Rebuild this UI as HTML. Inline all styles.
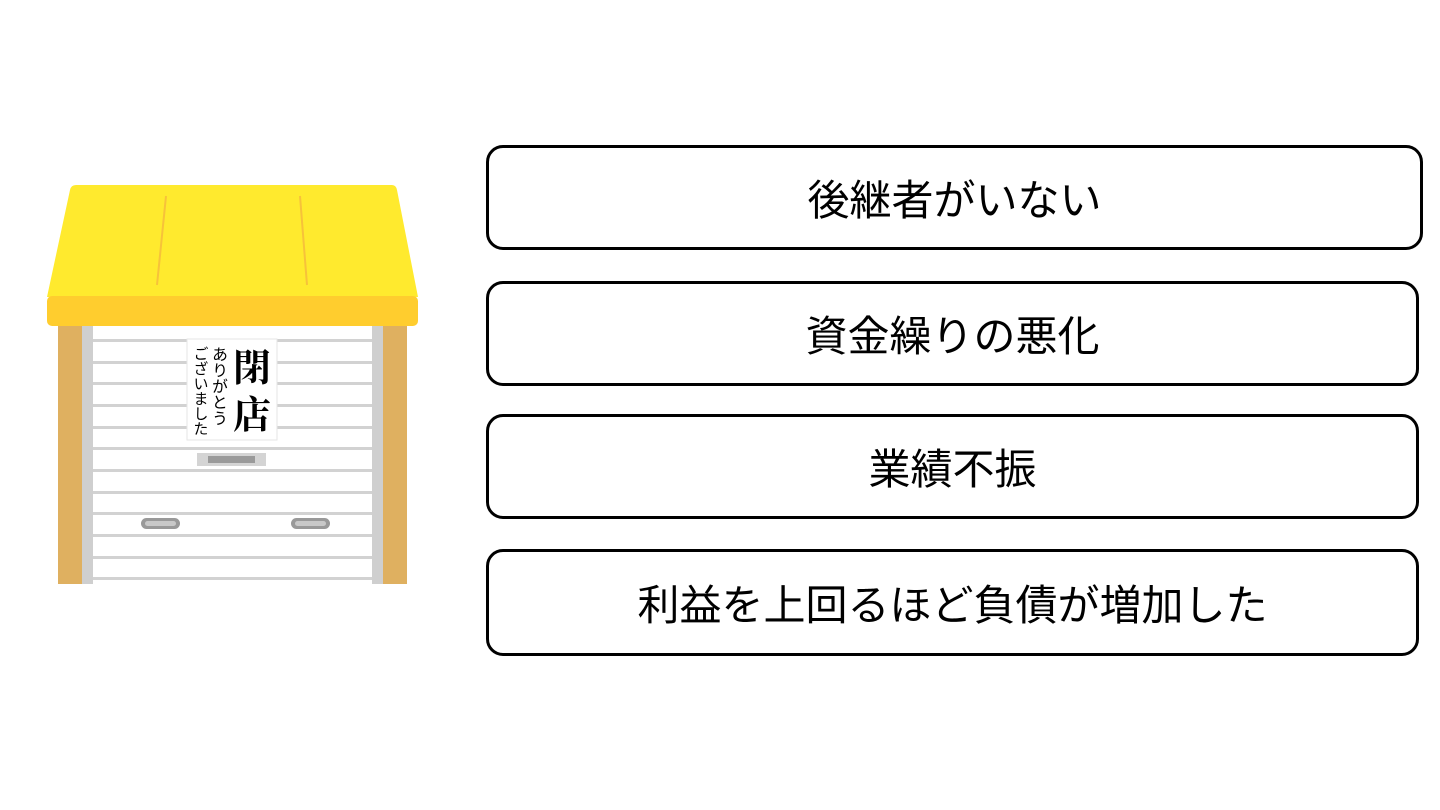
<!DOCTYPE html>
<html><head><meta charset="utf-8">
<style>
html,body{margin:0;padding:0;background:#fff;}
body{width:1440px;height:810px;position:relative;overflow:hidden;font-family:"Liberation Sans","Noto Sans CJK JP",sans-serif;}
.box{position:absolute;box-sizing:border-box;border:3.5px solid #000;border-radius:17px;display:flex;align-items:center;justify-content:center;font-size:42px;color:#000;}
</style></head><body>
<svg width="1440" height="810" style="position:absolute;left:0;top:0">
  <path d="M76 185 L392 185 Q396 185 397 190 L418 297 L47 297 L70 190 Q71 185 76 185 Z" fill="#ffea2e"/>
  <line x1="166" y1="196" x2="157" y2="285" stroke="#f7c23a" stroke-width="2"/>
  <line x1="300" y1="196" x2="307" y2="285" stroke="#f7c23a" stroke-width="2"/>
  <rect x="58" y="320" width="24" height="264" fill="#dfb060"/>
  <rect x="383" y="320" width="24" height="264" fill="#dfb060"/>
  <rect x="82" y="320" width="11" height="264" fill="#cfcfcf"/>
  <rect x="372" y="320" width="11" height="264" fill="#cfcfcf"/>
  <rect x="93" y="320" width="279" height="264" fill="#fff"/>
  <g fill="#d2d2d2">
    <rect x="93" y="339" width="279" height="3"/>
    <rect x="93" y="361" width="279" height="3"/>
    <rect x="93" y="382" width="279" height="3"/>
    <rect x="93" y="404" width="279" height="3"/>
    <rect x="93" y="426" width="279" height="3"/>
    <rect x="93" y="447" width="279" height="3"/>
    <rect x="93" y="469" width="279" height="3"/>
    <rect x="93" y="491" width="279" height="3"/>
    <rect x="93" y="512" width="279" height="3"/>
    <rect x="93" y="534" width="279" height="3"/>
    <rect x="93" y="556" width="279" height="3"/>
    <rect x="93" y="577" width="279" height="3"/>
  </g>
  <rect x="47" y="296" width="371" height="30" rx="5" fill="#ffcd2e"/>
  <rect x="187" y="339" width="90" height="101" fill="#fff" stroke="#e6e6e6" stroke-width="1"/>
  <text x="252" y="381" font-size="38" text-anchor="middle" font-family="'Noto Serif CJK SC','Noto Sans CJK JP',serif" font-weight="bold">閉</text>
  <text x="252" y="428" font-size="38" text-anchor="middle" font-family="'Noto Serif CJK SC','Noto Sans CJK JP',serif" font-weight="bold">店</text>
  <text x="220" y="346" font-size="16" font-family="'Noto Sans CJK JP',sans-serif" style="writing-mode:vertical-rl">ありがとう</text>
  <text x="201" y="346" font-size="15" font-family="'Noto Sans CJK JP',sans-serif" style="writing-mode:vertical-rl">ございました</text>
  <rect x="197" y="453" width="69" height="13" fill="#d4d4d4"/>
  <rect x="208" y="456" width="47" height="7" fill="#9a9a9a"/>
  <rect x="141" y="518" width="39" height="11" rx="5.5" fill="#999"/>
  <rect x="145" y="521" width="31" height="5" rx="2.5" fill="#c8c8c8"/>
  <rect x="291" y="518" width="39" height="11" rx="5.5" fill="#999"/>
  <rect x="295" y="521" width="31" height="5" rx="2.5" fill="#c8c8c8"/>
</svg>
<div class="box" style="left:486px;top:145px;width:937px;height:105px;">後継者がいない</div>
<div class="box" style="left:486px;top:281px;width:933px;height:105px;">資金繰りの悪化</div>
<div class="box" style="left:486px;top:414px;width:933px;height:105px;">業績不振</div>
<div class="box" style="left:486px;top:549px;width:933px;height:107px;">利益を上回るほど負債が増加した</div>
</body></html>
